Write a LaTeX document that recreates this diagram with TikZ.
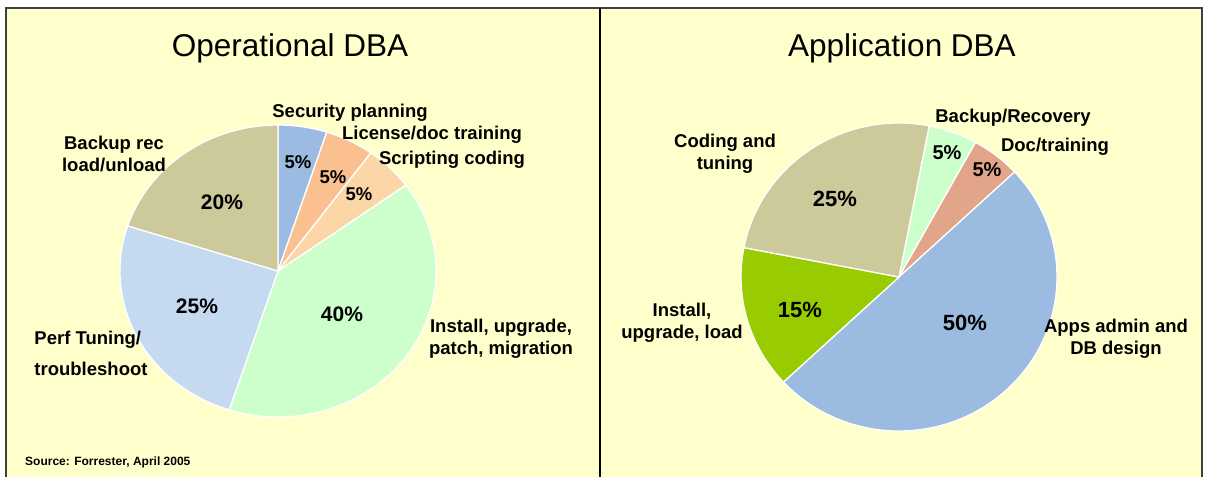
\documentclass[tikz,border=0pt]{standalone}
\usepackage{fontspec}
\setmainfont{Liberation Sans}
\definecolor{bgyellow}{HTML}{FFFFCC}
\definecolor{secblue}{HTML}{9CBBE2}
\definecolor{licorange}{HTML}{FAC08F}
\definecolor{scrpeach}{HTML}{FCD6A6}
\definecolor{instgreen}{HTML}{CCFFCC}
\definecolor{perfblue}{HTML}{C5D9F1}
\definecolor{khaki}{HTML}{CCC99A}
\definecolor{docsalmon}{HTML}{E3A58A}
\definecolor{appsblue}{HTML}{9BBBE0}
\definecolor{limegreen}{HTML}{99CC00}
\definecolor{framegray}{HTML}{404040}
\tikzset{
  slice/.style={draw=white, line width=1.3pt, line join=round},
  lbl/.style={inner sep=0pt, align=center, font=\fontsize{18.5}{22}\selectfont\bfseries},
  pctsmall/.style={inner sep=0pt, font=\fontsize{18.5}{22}\selectfont\bfseries},
  pctbig/.style={inner sep=0pt, font=\fontsize{21}{24}\selectfont\bfseries},
  pctsmallR/.style={inner sep=0pt, font=\fontsize{20}{24}\selectfont\bfseries},
  pctbigR/.style={inner sep=0pt, font=\fontsize{22}{26}\selectfont\bfseries},
  titletxt/.style={inner sep=0pt, font=\fontsize{31.5}{36}\selectfont},
}
\begin{document}
\begin{tikzpicture}[x=1pt, y=-1pt]
\useasboundingbox (0,0) rectangle (1206,477);
\fill[white] (0,0) rectangle (1206,477);
\fill[bgyellow] (6,8) rectangle (1202,477);
\draw[framegray, line width=2pt] (6,477) -- (6,8) -- (1202,8) -- (1202,477);
\draw[black, line width=2.2pt] (600,8) -- (600,477);

% Left pie
\begin{scope}[shift={(278,271)}, yscale=-1]
  \filldraw[slice, fill=secblue] (0,0) -- (90:158 and 146) arc[start angle=90, end angle=72, x radius=158, y radius=146] -- cycle;
  \filldraw[slice, fill=licorange] (0,0) -- (72:158 and 146) arc[start angle=72, end angle=54, x radius=158, y radius=146] -- cycle;
  \filldraw[slice, fill=scrpeach] (0,0) -- (54:158 and 146) arc[start angle=54, end angle=36, x radius=158, y radius=146] -- cycle;
  \filldraw[slice, fill=instgreen] (0,0) -- (36:158 and 146) arc[start angle=36, end angle=-108, x radius=158, y radius=146] -- cycle;
  \filldraw[slice, fill=perfblue] (0,0) -- (-108:158 and 146) arc[start angle=-108, end angle=-198, x radius=158, y radius=146] -- cycle;
  \filldraw[slice, fill=khaki] (0,0) -- (-198:158 and 146) arc[start angle=-198, end angle=-270, x radius=158, y radius=146] -- cycle;
\end{scope}

% Right pie
\begin{scope}[shift={(899,277)}, yscale=-1]
  \filldraw[slice, fill=instgreen] (0,0) -- (79:158 and 154) arc[start angle=79, end angle=61, x radius=158, y radius=154] -- cycle;
  \filldraw[slice, fill=docsalmon] (0,0) -- (61:158 and 154) arc[start angle=61, end angle=43, x radius=158, y radius=154] -- cycle;
  \filldraw[slice, fill=appsblue] (0,0) -- (43:158 and 154) arc[start angle=43, end angle=-137, x radius=158, y radius=154] -- cycle;
  \filldraw[slice, fill=limegreen] (0,0) -- (-137:158 and 154) arc[start angle=-137, end angle=-191, x radius=158, y radius=154] -- cycle;
  \filldraw[slice, fill=khaki] (0,0) -- (-191:158 and 154) arc[start angle=-191, end angle=-281, x radius=158, y radius=154] -- cycle;
\end{scope}

% Titles
\node[titletxt] (titleL) at (290,48) {Operational DBA};
\node[titletxt] (titleR) at (902,48) {Application DBA};

% Left labels
\node[lbl] (secL) at (350,113) {Security planning};
\node[lbl] (licL) at (432,135) {License/doc training};
\node[lbl] (scrL) at (452,160) {Scripting coding};
\node[lbl] (bakL) at (114,154) {Backup rec\\load/unload};
\node[lbl, align=left] (perfL) at (91,353) {Perf Tuning/\\[9pt]troubleshoot};
\node[lbl] (instL) at (501,339) {Install, upgrade,\\patch, migration};

\node[pctsmall] (p1L) at (298,162) {5\%};
\node[pctsmall] (p2L) at (333,177) {5\%};
\node[pctsmall] (p3L) at (359,194) {5\%};
\node[pctbig] (p4L) at (222,202) {20\%};
\node[pctbig] (p5L) at (197,306) {25\%};
\node[pctbig] (p6L) at (342,314) {40\%};

% Right labels
\node[lbl] (bakR) at (1013,118) {Backup/Recovery};
\node[lbl] (docR) at (1055,147) {Doc/training};
\node[lbl] (codR) at (725,154) {Coding and\\tuning};
\node[lbl] (instR) at (682,323) {Install,\\upgrade, load};
\node[lbl] (appsR) at (1116,339) {Apps admin and\\DB design};

\node[pctsmallR] (p1R) at (947,153) {5\%};
\node[pctsmallR] (p2R) at (987,170) {5\%};
\node[pctbigR] (p3R) at (835,199) {25\%};
\node[pctbigR] (p4R) at (800,310) {15\%};
\node[pctbigR] (p5R) at (965,323) {50\%};

% Source
\node[inner sep=0pt, anchor=west, font=\fontsize{12}{14}\selectfont\bfseries] (src) at (25,462) {Source: Forrester, April 2005};
\end{tikzpicture}
\end{document}
